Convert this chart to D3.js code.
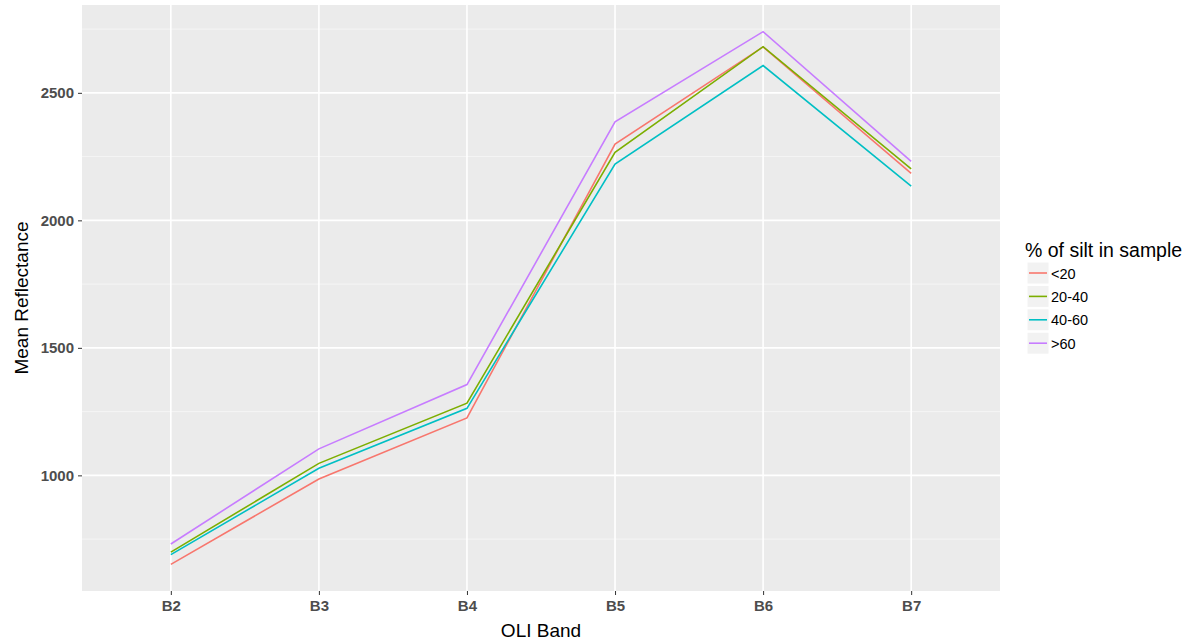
<!DOCTYPE html>
<html>
<head>
<meta charset="utf-8">
<script src="https://cdn.jsdelivr.net/npm/d3@7"></script>
<style>
  body { margin: 0; background: #fff; }
  text { font-family: "Liberation Sans", Arial, sans-serif; }
</style>
</head>
<body>
<script>
// Chart size and panel placement
const width = 1194;
const height = 642;
const margin = { top: 5, right: 194, bottom: 51, left: 82 };

// Data
const bands = ["B2", "B3", "B4", "B5", "B6", "B7"];
const groups = ["<20", "20-40", "40-60", ">60"];
const lt20 = [651, 986, 1225, 2299, 2680, 2184];
const g20to40 = [699, 1047, 1283, 2267, 2681, 2202];
const g40to60 = [689, 1028, 1263, 2221, 2607, 2134];
const gt60 = [731, 1104, 1356, 2386, 2740, 2231];
const yTicks = [1000, 1500, 2000, 2500];
const yMinor = [750, 1250, 1750, 2250, 2750];
const colors = ["#F8766D", "#7CAE00", "#00BFC4", "#C77CFF"];

const seriesValues = [lt20, g20to40, g40to60, gt60];
const series = groups.map((g, i) => ({
  name: g,
  values: bands.map((b, j) => ({ band: b, value: seriesValues[i][j] }))
}));

const svg = d3.select("body").append("svg")
  .attr("width", width)
  .attr("height", height);

const panelW = width - margin.left - margin.right;
const panelH = height - margin.top - margin.bottom;

// ggplot-style discrete scale with 0.6 expansion each side
const xIndex = d3.scaleLinear()
  .domain([-0.6, bands.length - 1 + 0.6])
  .range([margin.left, margin.left + panelW]);
const x = b => xIndex(bands.indexOf(b));

const allVals = seriesValues.flat();
const lo = d3.min(allVals), hi = d3.max(allVals);
const pad = (hi - lo) * 0.05;
const y = d3.scaleLinear()
  .domain([lo - pad, hi + pad])
  .range([margin.top + panelH, margin.top]);

// Panel background
svg.append("rect")
  .attr("x", margin.left)
  .attr("y", margin.top)
  .attr("width", panelW)
  .attr("height", panelH)
  .attr("fill", "#EBEBEB");

// Minor gridlines
svg.selectAll(".minor")
  .data(yMinor.filter(v => v > y.domain()[0] && v < y.domain()[1]))
  .enter().append("line")
  .attr("x1", margin.left).attr("x2", margin.left + panelW)
  .attr("y1", d => y(d)).attr("y2", d => y(d))
  .attr("stroke", "#F5F5F5")
  .attr("stroke-width", 1);

// Major gridlines
svg.selectAll(".hmajor")
  .data(yTicks)
  .enter().append("line")
  .attr("x1", margin.left).attr("x2", margin.left + panelW)
  .attr("y1", d => y(d)).attr("y2", d => y(d))
  .attr("stroke", "#fff")
  .attr("stroke-width", 1.6);

svg.selectAll(".vmajor")
  .data(bands)
  .enter().append("line")
  .attr("x1", d => x(d)).attr("x2", d => x(d))
  .attr("y1", margin.top).attr("y2", margin.top + panelH)
  .attr("stroke", "#fff")
  .attr("stroke-width", 1.6);

// Lines
const line = d3.line()
  .x(d => x(d.band))
  .y(d => y(d.value));

svg.selectAll(".series")
  .data(series)
  .enter().append("path")
  .attr("d", d => line(d.values))
  .attr("fill", "none")
  .attr("stroke", (d, i) => colors[i])
  .attr("stroke-width", 1.6);

// Axes
const yAxis = svg.append("g")
  .attr("transform", `translate(${margin.left},0)`)
  .call(d3.axisLeft(y).tickValues(yTicks).tickSize(4).tickPadding(4).tickFormat(d3.format("d")));
const xAxis = svg.append("g")
  .attr("transform", `translate(0,${margin.top + panelH})`)
  .call(d3.axisBottom(d3.scalePoint().domain(bands).range([x(bands[0]), x(bands[bands.length - 1])]))
    .tickSize(4).tickPadding(5));

[xAxis, yAxis].forEach(ax => {
  ax.select(".domain").remove();
  ax.selectAll(".tick line").attr("stroke", "#333").attr("stroke-width", 1);
  ax.selectAll(".tick text")
    .attr("fill", "#4D4D4D")
    .style("font-size", "15px")
    .style("font-weight", "bold");
});

// Axis titles
svg.append("text")
  .attr("x", margin.left + panelW / 2)
  .attr("y", 637)
  .attr("text-anchor", "middle")
  .style("font-size", "19px")
  .text("OLI Band");

svg.append("text")
  .attr("transform", `translate(28,${margin.top + panelH / 2}) rotate(-90)`)
  .attr("text-anchor", "middle")
  .style("font-size", "19px")
  .text("Mean Reflectance");

// Legend
const legend = svg.append("g").attr("transform", "translate(1025,238)");
legend.append("text")
  .attr("x", 0)
  .attr("y", 19)
  .style("font-size", "19.5px")
  .text("% of silt in sample");

const items = legend.selectAll(".item")
  .data(groups)
  .enter().append("g")
  .attr("transform", (d, i) => `translate(2,${24 + i * 23.4})`);

items.append("rect")
  .attr("width", 22).attr("height", 22)
  .attr("fill", "#F2F2F2")
  .attr("stroke", "#fff")
  .attr("stroke-width", 1);

items.append("line")
  .attr("x1", 2).attr("x2", 20)
  .attr("y1", 11).attr("y2", 11)
  .attr("stroke", (d, i) => colors[i])
  .attr("stroke-width", 1.6);

items.append("text")
  .attr("x", 24)
  .attr("y", 16.5)
  .style("font-size", "14.5px")
  .text(d => d);
</script>
</body>
</html>
